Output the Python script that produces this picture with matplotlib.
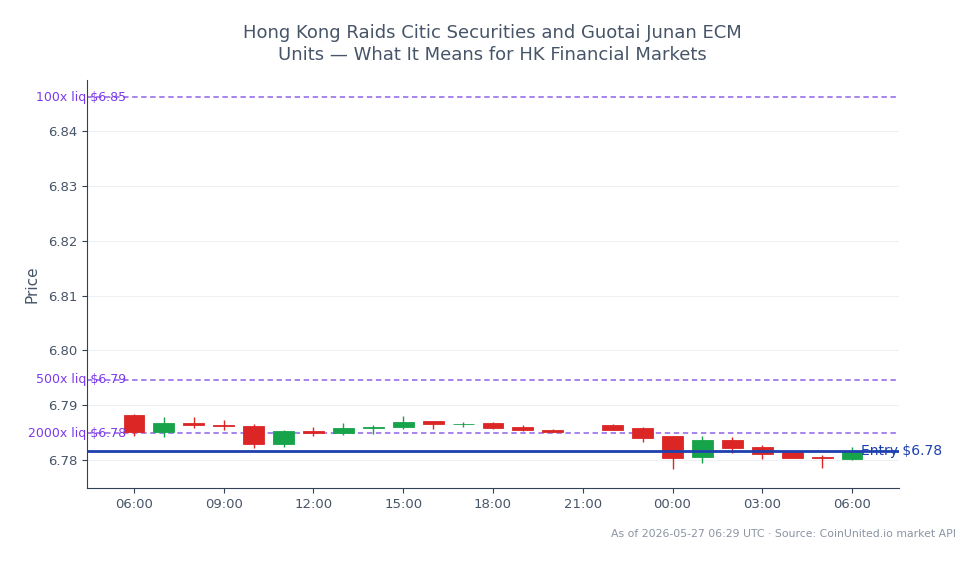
import numpy as np
import pandas as pd
import matplotlib
matplotlib.use("Agg")
import matplotlib.pyplot as plt
import matplotlib.dates as mdates

# hourly candles, 2026-05-26 06:00 -> 2026-05-27 06:00 (21:00 missing)
times = pd.to_datetime([
    "2026-05-26 06:00", "2026-05-26 07:00", "2026-05-26 08:00", "2026-05-26 09:00",
    "2026-05-26 10:00", "2026-05-26 11:00", "2026-05-26 12:00", "2026-05-26 13:00",
    "2026-05-26 14:00", "2026-05-26 15:00", "2026-05-26 16:00", "2026-05-26 17:00",
    "2026-05-26 18:00", "2026-05-26 19:00", "2026-05-26 20:00", "2026-05-26 22:00",
    "2026-05-26 23:00", "2026-05-27 00:00", "2026-05-27 01:00", "2026-05-27 02:00",
    "2026-05-27 03:00", "2026-05-27 04:00", "2026-05-27 05:00", "2026-05-27 06:00",
])
opens = [6.7882, 6.7851, 6.7867, 6.7863, 6.7862, 6.7829, 6.7853, 6.7849,
         6.7858, 6.7860, 6.7871, 6.7865, 6.7867, 6.7860, 6.7855, 6.7864,
         6.7858, 6.7844, 6.7805, 6.7836, 6.7824, 6.7814, 6.7806, 6.7802]
highs = [6.7884, 6.7878, 6.7879, 6.7873, 6.7866, 6.7854, 6.7860, 6.7867,
         6.7864, 6.7880, 6.7872, 6.7870, 6.7870, 6.7863, 6.7857, 6.7866,
         6.7861, 6.7844, 6.7844, 6.7842, 6.7827, 6.7815, 6.7810, 6.7824]
lows = [6.7844, 6.7842, 6.7859, 6.7855, 6.7822, 6.7823, 6.7844, 6.7846,
        6.7847, 6.7857, 6.7856, 6.7860, 6.7857, 6.7853, 6.7851, 6.7854,
        6.7833, 6.7783, 6.7794, 6.7812, 6.7801, 6.7803, 6.7785, 6.7800]
closes = [6.7851, 6.7867, 6.7863, 6.7862, 6.7829, 6.7853, 6.7850, 6.7858,
          6.7860, 6.7870, 6.7865, 6.7866, 6.7859, 6.7854, 6.7852, 6.7855,
          6.7841, 6.7804, 6.7836, 6.7822, 6.7811, 6.7804, 6.7804, 6.7814]

entry_price = 6.7816
liq_labels = ["100x liq $6.85", "500x liq $6.79", "2000x liq $6.78"]
liq_prices = [6.8462, 6.7946, 6.7849]

title = "Hong Kong Raids Citic Securities and Guotai Junan ECM\nUnits \u2014 What It Means for HK Financial Markets"
footnote = "As of 2026-05-27 06:29 UTC \u00b7 Source: CoinUnited.io market API"

up_color = "#16a34a"
down_color = "#dc2626"
text_color = "#475569"
axis_color = "#334155"

fig = plt.figure(figsize=(9.79, 5.64), dpi=100)
ax = fig.add_axes([87 / 979, 1 - 488 / 564, 812 / 979, 408 / 564])

x = mdates.date2num(times)
width = 0.7 / 24
for xi, o, h, l, c in zip(x, opens, highs, lows, closes):
    col = up_color if c >= o else down_color
    ax.vlines(xi, l, h, color=col, linewidth=1, zorder=3)
    bottom = min(o, c)
    height = max(abs(c - o), 0.0001)
    ax.bar(xi, height, width=width, bottom=bottom, color=col, edgecolor=col,
           linewidth=0.6, zorder=4)

# liquidation levels
for lab, p in zip(liq_labels, liq_prices):
    ax.axhline(p, color="#9f7aea", linestyle=(0, (3, 2)), linewidth=1.3, zorder=2)
    ax.text(0.048, p, lab, transform=ax.get_yaxis_transform(), ha="right", va="center",
            color="#7c3aed", fontsize=9, zorder=6, clip_on=False)

# entry
ax.axhline(entry_price, color="#1e40af", linewidth=2, zorder=5)
ax.text(0.953, entry_price, "Entry $6.78", transform=ax.get_yaxis_transform(), ha="left",
        va="center", color="#1e40af", fontsize=10, zorder=6, clip_on=False)

pad = 1.57 / 24
ax.set_xlim(x[0] - pad, x[-1] + pad)
ax.set_ylim(6.7749, 6.8493)
ax.set_yticks([6.78, 6.79, 6.80, 6.81, 6.82, 6.83, 6.84])
ax.yaxis.set_major_formatter(plt.FormatStrFormatter("%.2f"))
ax.xaxis.set_major_locator(mdates.HourLocator(byhour=range(0, 24, 3)))
ax.xaxis.set_major_formatter(mdates.DateFormatter("%H:%M"))

ax.grid(axis="y", color="#eef0f3", linewidth=0.8, zorder=0)
ax.set_axisbelow(True)
for s in ["top", "right"]:
    ax.spines[s].set_visible(False)
for s in ["left", "bottom"]:
    ax.spines[s].set_color(axis_color)
ax.tick_params(colors=axis_color, labelcolor=text_color, labelsize=9.5)
ax.set_ylabel("Price", color=text_color, fontsize=11, labelpad=6)

fig.suptitle(title, x=0.503, y=0.958, fontsize=13, color=text_color, linespacing=1.3)
fig.text(956 / 979, 1 - 534 / 564, footnote, ha="right", va="center", fontsize=7.8, color="#8a94a3")

fig.savefig("out.png", dpi=100, facecolor="white")
